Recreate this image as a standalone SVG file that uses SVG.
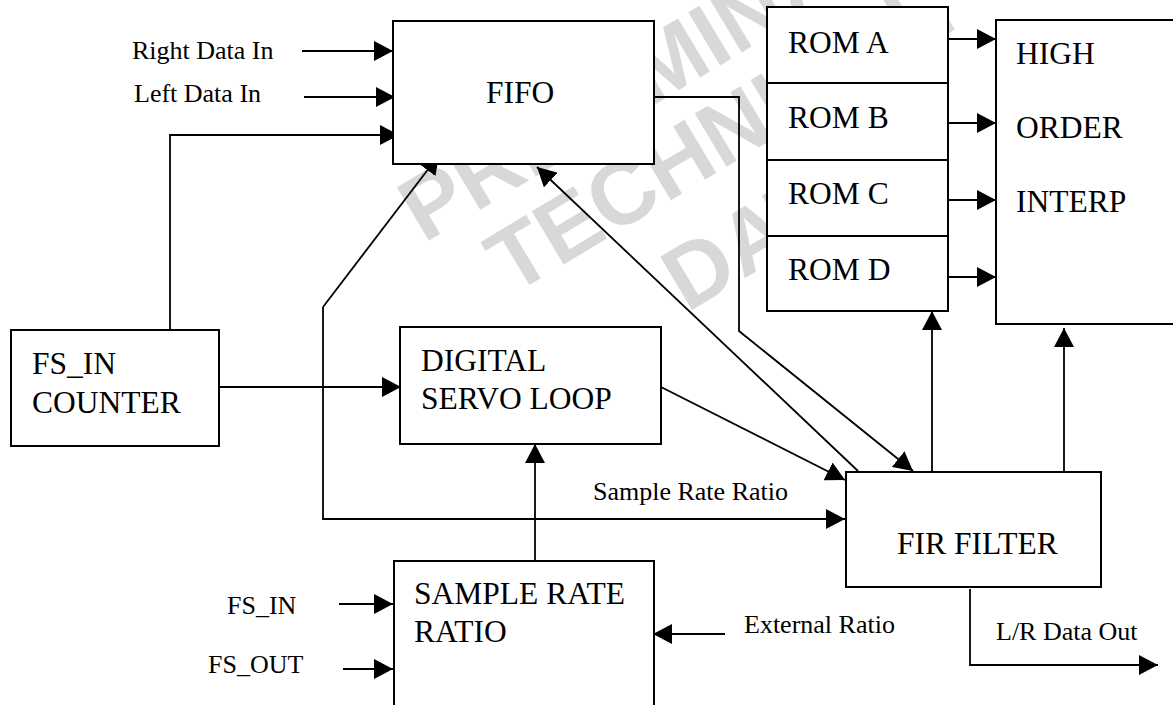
<svg xmlns="http://www.w3.org/2000/svg" width="1173" height="705" viewBox="0 0 1173 705">
  <style>
    .box { fill: #ffffff; stroke: #000000; stroke-width: 2; }
    .div { stroke: #000000; stroke-width: 2; }
    .big { font-family: "Liberation Serif", "Times New Roman", serif; font-size: 31.5px; fill: #000000; }
    .lbl { font-family: "Liberation Serif", "Times New Roman", serif; font-size: 26px; fill: #000000; }
    .wm { font-family: "Liberation Sans", Arial, sans-serif; font-weight: bold; font-size: 90px; fill: #d8d8d8; text-anchor: middle; }
    .wire { fill: none; stroke: #000000; stroke-width: 1.8; }
    .arr { marker-end: url(#ah); }
  </style>
  <defs>
    <marker id="ah" markerWidth="20" markerHeight="20" refX="19" refY="10" orient="auto" markerUnits="userSpaceOnUse">
      <path d="M0,0 L19,10 L0,20 Z" fill="#000000"/>
    </marker>
    <marker id="ahs" markerWidth="20" markerHeight="20" refX="19" refY="10" orient="auto-start-reverse" markerUnits="userSpaceOnUse">
      <path d="M0,0 L19,10 L0,20 Z" fill="#000000"/>
    </marker>
  </defs>

  <rect x="0" y="0" width="1173" height="705" fill="#ffffff"/>

  <!-- background watermark -->
  <g id="watermark" transform="rotate(-31)">
    <text class="wm" x="546" y="427">PRELIMINARY</text>
    <text class="wm" x="546" y="517">TECHNICAL</text>
    <text class="wm" x="546" y="622">DATA</text>
  </g>

  <!-- connectors -->
  <g id="connectors">
    <line class="wire arr" x1="302" y1="51" x2="393" y2="51"/>
    <line class="wire arr" x1="304" y1="97" x2="395" y2="97"/>
    <polyline class="wire arr" points="170,330 170,135 399,135"/>
    <line class="wire arr" x1="219" y1="387" x2="401" y2="387"/>
    <path class="wire" d="M323,307 L439,155" marker-end="url(#ahs)"/>
    <polyline class="wire arr" points="323,307 323,519 845,519"/>
    <line class="wire arr" x1="535" y1="561" x2="535" y2="444"/>
    <line class="wire arr" x1="661" y1="387" x2="845" y2="480"/>
    <line class="wire arr" x1="858" y1="471" x2="537" y2="167"/>
    <polyline class="wire arr" points="650,97 739,97 739,331 913,471"/>
    <line class="wire arr" x1="932" y1="481" x2="932" y2="311"/>
    <line class="wire arr" x1="1064" y1="481" x2="1064" y2="328"/>
    <line class="wire arr" x1="946" y1="39" x2="996" y2="39"/>
    <line class="wire arr" x1="948" y1="123" x2="996" y2="123"/>
    <line class="wire arr" x1="948" y1="200" x2="996" y2="200"/>
    <line class="wire arr" x1="948" y1="277" x2="996" y2="277"/>
    <polyline class="wire arr" points="970,589 970,665 1158,665"/>
    <line class="wire arr" x1="725" y1="634" x2="653" y2="634"/>
    <line class="wire arr" x1="339" y1="604" x2="393" y2="604"/>
    <line class="wire arr" x1="343" y1="669" x2="393" y2="669"/>
  </g>

  <!-- signal labels -->
  <g id="labels">
    <text class="lbl" x="132" y="59">Right Data In</text>
    <text class="lbl" x="134" y="102">Left Data In</text>
    <text class="lbl" x="593" y="500">Sample Rate Ratio</text>
    <text class="lbl" x="744" y="633">External Ratio</text>
    <text class="lbl" x="996" y="640">L/R Data Out</text>
    <text class="lbl" x="227" y="614">FS_IN</text>
    <text class="lbl" x="208" y="673">FS_OUT</text>
  </g>

  <g id="fifo">
    <rect class="box" x="393" y="21" width="261" height="143"/>
    <text class="big" x="486" y="103">FIFO</text>
  </g>

  <g id="rom">
    <rect class="box" x="767" y="7" width="181" height="304"/>
    <line class="div" x1="767" y1="83" x2="948" y2="83"/>
    <line class="div" x1="767" y1="160" x2="948" y2="160"/>
    <line class="div" x1="767" y1="236" x2="948" y2="236"/>
    <text class="big" x="788" y="53">ROM A</text>
    <text class="big" x="788" y="128">ROM B</text>
    <text class="big" x="788" y="204">ROM C</text>
    <text class="big" x="788" y="280">ROM D</text>
  </g>

  <g id="interp">
    <rect class="box" x="996" y="20" width="200" height="304"/>
    <text class="big" x="1016" y="64">HIGH</text>
    <text class="big" x="1016" y="138">ORDER</text>
    <text class="big" x="1016" y="212">INTERP</text>
  </g>

  <g id="fs-in-counter">
    <rect class="box" x="11" y="330" width="208" height="116"/>
    <text class="big" x="32" y="374">FS_IN</text>
    <text class="big" x="32" y="413">COUNTER</text>
  </g>

  <g id="servo">
    <rect class="box" x="400" y="327" width="261" height="117"/>
    <text class="big" x="421" y="371">DIGITAL</text>
    <text class="big" x="421" y="409">SERVO LOOP</text>
  </g>

  <g id="fir">
    <rect class="box" x="846" y="472" width="255" height="115"/>
    <text class="big" x="897" y="554">FIR FILTER</text>
  </g>

  <g id="srr">
    <rect class="box" x="394" y="561" width="260" height="200"/>
    <text class="big" x="414" y="604">SAMPLE RATE</text>
    <text class="big" x="414" y="642">RATIO</text>
  </g>
</svg>
